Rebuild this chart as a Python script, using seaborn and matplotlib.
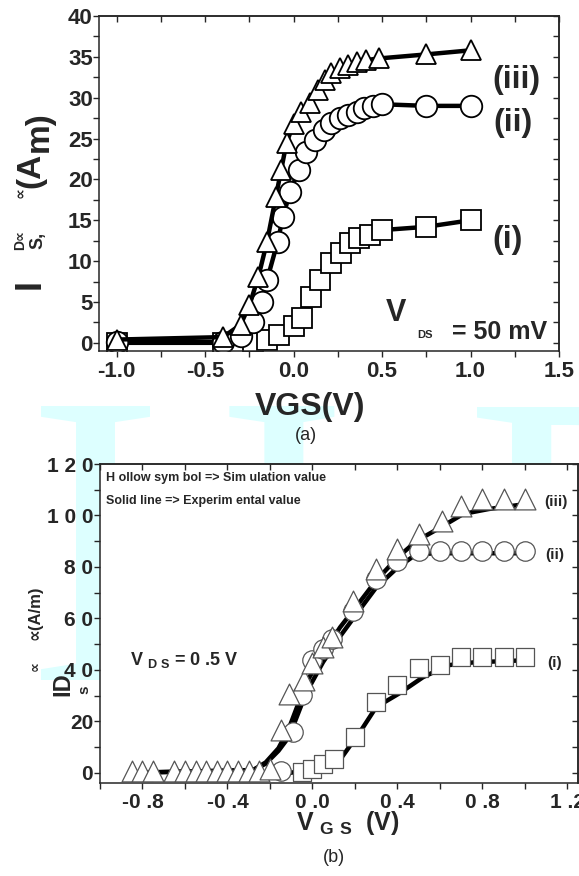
import numpy as np
import pandas as pd
import matplotlib
matplotlib.use('Agg')
import matplotlib.pyplot as plt
import seaborn as sns
from matplotlib.ticker import MultipleLocator

# ------------------------------------------------------------------
# DATA  panel (a): VDS = 50 mV, symbols joined by thick line
# ------------------------------------------------------------------
vgs_a_i = [-1.0, -0.40, -0.32, -0.23, -0.15, -0.08, 0.00, 0.05, 0.10, 0.15, 0.21,
           0.27, 0.32, 0.37, 0.43, 0.50, 0.75, 1.00]
ids_a_i = [0.0, 0.0, 0.0, 0.1, 0.4, 1.0, 2.0, 3.1, 5.6, 7.7, 9.8,
           11.0, 12.2, 12.8, 13.2, 13.8, 14.2, 15.0]

vgs_a_ii = [-1.0, -0.40, -0.30, -0.23, -0.18, -0.15, -0.09, -0.06, -0.02, 0.03, 0.07,
            0.12, 0.17, 0.21, 0.26, 0.31, 0.36, 0.40, 0.45, 0.50, 0.75, 1.00]
ids_a_ii = [0.1, 0.1, 0.8, 2.6, 5.0, 7.7, 12.4, 15.4, 18.5, 21.2, 23.4,
            24.8, 26.0, 26.9, 27.5, 27.9, 28.3, 28.7, 29.0, 29.2, 29.0, 29.0]

vgs_a_iii = [-1.0, -0.40, -0.30, -0.25, -0.20, -0.15, -0.10, -0.07, -0.04, 0.00, 0.04,
             0.09, 0.14, 0.18, 0.21, 0.26, 0.31, 0.36, 0.41, 0.48, 0.75, 1.00]
ids_a_iii = [0.4, 0.7, 2.2, 4.6, 8.0, 12.4, 17.9, 21.2, 24.5, 26.8, 28.2,
             29.4, 31.0, 32.2, 33.0, 33.6, 34.0, 34.4, 34.6, 34.8, 35.3, 35.8]

# ------------------------------------------------------------------
# DATA  panel (b): VDS = 0.5 V, hollow symbols = simulation, line = experiment
# ------------------------------------------------------------------
sim_b_i_x = [-0.05, 0.00, 0.05, 0.10, 0.20, 0.30, 0.40, 0.50, 0.60, 0.70, 0.80, 0.90, 1.00]
sim_b_i_y = [0.3, 1.5, 3.5, 5.5, 13.9, 27.5, 34.0, 40.6, 41.8, 44.9, 44.9, 44.9, 44.9]

sim_b_ii_x = [-0.15, -0.09, -0.05, 0.00, 0.05, 0.09, 0.19, 0.30, 0.40, 0.50, 0.60,
              0.70, 0.80, 0.90, 1.00]
sim_b_ii_y = [0.8, 15.9, 30.2, 43.7, 48.0, 52.0, 63.0, 75.4, 82.4, 86.3, 86.3,
              86.3, 86.3, 86.3, 86.3]

sim_b_iii_x = [-0.85, -0.80, -0.75, -0.65, -0.60, -0.55, -0.50, -0.45, -0.40, -0.35,
               -0.30, -0.25, -0.20, -0.15, -0.11, -0.04, 0.00, 0.05, 0.09, 0.19,
               0.30, 0.40, 0.50, 0.61, 0.70, 0.80, 0.90, 1.00]
sim_b_iii_y = [0.5, 0.5, 0.5, 0.5, 0.5, 0.5, 0.5, 0.5, 0.5, 0.5,
               0.5, 0.5, 1.5, 16.5, 30.5, 36.0, 42.5, 48.7, 52.6, 66.9,
               79.3, 87.0, 92.8, 97.9, 103.7, 106.4, 106.4, 106.4]

exp_b_i_x = [-0.10, 0.05, 0.14, 0.23, 0.30, 0.41, 0.52, 0.64, 0.76, 1.00]
exp_b_i_y = [0.0, 2.3, 6.2, 16.6, 25.5, 30.9, 37.1, 41.8, 42.9, 43.7]

exp_b_ii_x = [-0.85, -0.28, -0.22, -0.16, -0.11, -0.03, 0.05, 0.13, 0.21, 0.30,
              0.40, 0.49, 0.60, 0.80, 1.00]
exp_b_ii_y = [0.0, 1.0, 3.5, 8.5, 14.0, 31.0, 43.0, 53.0, 62.0, 72.0,
              79.7, 85.0, 85.3, 85.3, 85.3]

exp_b_iii_x = [-0.85, -0.28, -0.22, -0.16, -0.11, -0.03, 0.05, 0.13, 0.21, 0.30,
               0.40, 0.49, 0.60, 0.71, 0.83, 1.00]
exp_b_iii_y = [0.0, 1.0, 4.0, 9.5, 17.4, 34.8, 46.4, 56.5, 65.0, 74.7,
               83.6, 90.1, 95.2, 100.6, 102.5, 104.4]

xticks_b = [-0.8, -0.4, 0.0, 0.4, 0.8, 1.2]
xticklabels_b = ['-0 .8', '-0 .4', '0 .0', '0 .4', '0 .8', '1 .2']
yticks_b = [0, 20, 40, 60, 80, 100, 120]
yticklabels_b = ['0', '20', '4 0', '6 0', '8 0', '1 0 0', '1 2 0']

# ------------------------------------------------------------------
# STYLE
# ------------------------------------------------------------------
sns.set_style('ticks')
plt.rcParams['font.family'] = ['Liberation Sans', 'DejaVu Sans']
plt.rcParams['mathtext.fontset'] = 'custom'
plt.rcParams['mathtext.rm'] = 'Liberation Sans'
plt.rcParams['mathtext.bf'] = 'Liberation Sans:bold'
plt.rcParams['axes.linewidth'] = 1.1

W, H = 579, 876
fig = plt.figure(figsize=(W / 100, H / 100), dpi=100)


def px(x, y):
    # pixel position (from top-left) -> figure fraction
    return x / W, 1 - y / H


def ftext(x, y, s, **kw):
    fx, fy = px(x, y)
    kw.setdefault('ha', 'center')
    kw.setdefault('va', 'center')
    fig.text(fx, fy, s, **kw)


# light cyan journal watermark behind both panels
fx, fy = px(26, 680)
fig.text(fx, fy, 'I', fontsize=300, family='Liberation Serif', color='#ddffff',
         ha='left', va='baseline', zorder=-5)
fx, fy = px(180, 680)
fig.text(fx, fy, 'J', fontsize=300, family='Liberation Serif', color='#ddffff',
         ha='left', va='baseline', zorder=-5)
fx, fy = px(465, 680)
fig.text(fx, fy, 'P', fontsize=300, family='Liberation Serif', color='#ddffff',
         ha='left', va='baseline', zorder=-5)


def mirror_ticks(ax, xmaj, xmin, ymaj, ymin):
    top = ax.secondary_xaxis('top')
    top.xaxis.set_major_locator(MultipleLocator(xmaj))
    top.xaxis.set_minor_locator(MultipleLocator(xmin))
    top.tick_params(which='both', direction='in', length=4, width=1, labeltop=False)
    right = ax.secondary_yaxis('right')
    right.yaxis.set_major_locator(MultipleLocator(ymaj))
    right.yaxis.set_minor_locator(MultipleLocator(ymin))
    right.tick_params(which='both', direction='in', length=4, width=1, labelright=False)


# ------------------------------------------------------------------
# PANEL (a)
# ------------------------------------------------------------------
ax1 = fig.add_axes([99 / W, 1 - 351 / H, (559 - 99) / W, (351 - 16) / H])
ax1.set_facecolor('white')
series_a = [(vgs_a_i, ids_a_i, 's', 14), (vgs_a_ii, ids_a_ii, 'o', 15.5),
            (vgs_a_iii, ids_a_iii, '^', 15)]
for xs, ys, mk, ms in series_a:
    sns.lineplot(x=xs, y=ys, ax=ax1, sort=False, estimator=None, color='black',
                 lw=3.2, marker=mk, markersize=ms, markerfacecolor='white',
                 markeredgecolor='black', markeredgewidth=1.3)
ax1.set_xlim(-1.1, 1.5)
ax1.set_ylim(-1, 40)
ax1.xaxis.set_minor_locator(MultipleLocator(0.25))
ax1.yaxis.set_major_locator(MultipleLocator(5))
ax1.yaxis.set_minor_locator(MultipleLocator(2.5))
ax1.set_xticks([-1.0, -0.5, 0.0, 0.5, 1.0, 1.5])
ax1.set_xticklabels(['-1.0', '-0.5', '0.0', '0.5', '1.0', '1.5'])
ax1.tick_params(which='both', direction='out', length=4, width=1)
ax1.tick_params(axis='x', pad=3, labelsize=16)
ax1.tick_params(axis='y', pad=0.5, labelsize=16)
for lab in ax1.get_xticklabels() + ax1.get_yticklabels():
    lab.set_fontweight('bold')
mirror_ticks(ax1, 0.5, 0.25, 5, 2.5)
for sp in ax1.spines.values():
    sp.set_visible(True)

ftext(492, 80, '(iii)', ha='left', fontsize=23, fontweight='bold')
ftext(493, 123, '(ii)', ha='left', fontsize=23, fontweight='bold')
ftext(492, 240, '(i)', ha='left', fontsize=23, fontweight='bold')
ftext(386, 313, 'V', ha='left', fontsize=22, fontweight='bold')
ftext(425, 335, 'DS', fontsize=8, fontweight='bold')
ftext(452, 332, '= 50 mV', ha='left', fontsize=18, fontweight='bold')
ftext(310, 407, 'VGS(V)', fontsize=23, fontweight='bold')
ftext(306, 436, '(a)', fontsize=13)

# broken y label of panel (a), as printed
rot = dict(rotation=90, fontweight='bold', family=['Liberation Sans', 'DejaVu Sans'])
ftext(30, 284, 'I', fontsize=26, **rot)
ftext(38, 240, 'S,', fontsize=13, **rot)
ftext(20, 240, 'D\u221d', fontsize=10, **rot)
ftext(20, 193, '\u221d', fontsize=11, **rot)
ftext(31, 170, '(A', fontsize=24, **rot)
ftext(39, 132, 'm)', fontsize=24, **rot)

# ------------------------------------------------------------------
# PANEL (b)
# ------------------------------------------------------------------
ax2 = fig.add_axes([100 / W, 1 - 783 / H, (578 - 100) / W, (783 - 464) / H])
ax2.set_facecolor('white')
for xs, ys in [(exp_b_i_x, exp_b_i_y), (exp_b_ii_x, exp_b_ii_y), (exp_b_iii_x, exp_b_iii_y)]:
    sns.lineplot(x=xs, y=ys, ax=ax2, sort=False, estimator=None, color='black',
                 lw=3.2, zorder=2)
for xs, ys, mk, ms in [(sim_b_i_x, sim_b_i_y, 's', 12.5), (sim_b_ii_x, sim_b_ii_y, 'o', 14),
                       (sim_b_iii_x, sim_b_iii_y, '^', 15)]:
    sns.scatterplot(x=xs, y=ys, ax=ax2, marker=mk, s=ms ** 2, facecolor='white',
                    edgecolor='#555555', linewidth=0.9, zorder=3)
ax2.set_xlim(-1.0, 1.25)
ax2.set_ylim(-4, 120)
ax2.set_xticks(xticks_b)
ax2.set_xticklabels(xticklabels_b)
ax2.xaxis.set_minor_locator(MultipleLocator(0.2))
ax2.set_yticks(yticks_b)
ax2.set_yticklabels(yticklabels_b)
ax2.yaxis.set_minor_locator(MultipleLocator(10))
ax2.tick_params(which='both', direction='out', length=4, width=1)
ax2.tick_params(axis='x', pad=3.5, labelsize=15)
ax2.tick_params(axis='y', pad=1, labelsize=15)
for lab in ax2.get_xticklabels() + ax2.get_yticklabels():
    lab.set_fontweight('bold')
mirror_ticks(ax2, 0.4, 0.2, 20, 10)
for sp in ax2.spines.values():
    sp.set_visible(True)

ax2.text(0.012, 0.955, 'H ollow sym bol => Sim ulation value', transform=ax2.transAxes,
         ha='left', va='center', fontsize=9, fontweight='bold')
ax2.text(0.012, 0.883, 'Solid line => Experim ental value', transform=ax2.transAxes,
         ha='left', va='center', fontsize=9, fontweight='bold')
ftext(130, 660, r'V $_{\mathbf{D\ S}}$ = 0 .5 V', ha='left', fontsize=13, fontweight='bold')
ftext(544, 502, '(iii)', ha='left', fontsize=11, fontweight='bold')
ftext(545, 555, '(ii)', ha='left', fontsize=11, fontweight='bold')
ftext(547, 663, '(i)', ha='left', fontsize=11, fontweight='bold')
ftext(348, 823, r'V $_{\mathbf{G\ S}}$  (V)', fontsize=18, fontweight='bold')
ftext(334, 857, '(b)', fontsize=13)

# broken y label of panel (b), as printed
ftext(63, 684, 'ID', fontsize=17, **rot)
ftext(84, 690, 's', fontsize=11, **rot)
ftext(35, 666, '\u221d', fontsize=10, **rot)
ftext(35, 613, '\u221d(A/m)', fontsize=12, **rot)

plt.savefig('out.png', dpi=100)
plt.close(fig)
